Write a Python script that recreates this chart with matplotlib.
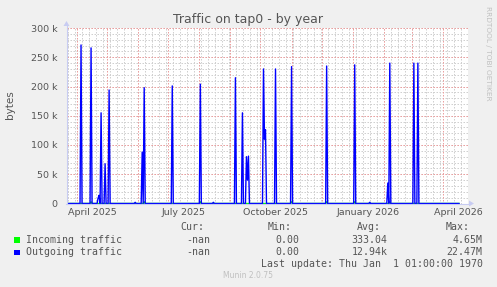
import matplotlib
matplotlib.use('Agg')
import matplotlib.pyplot as plt
import numpy as np
import pandas as pd

# graph window (munin "by year" = 400 days)
start = pd.Timestamp('2025-03-22')
end = start + pd.Timedelta(days=400)
data_end = pd.Timestamp('2026-04-17')

# outgoing traffic, daily averages (bytes), zero elsewhere
out_dates = ['2025-04-05', '2025-04-15', '2025-04-22', '2025-04-23', '2025-04-25', '2025-04-29',
             '2025-05-03', '2025-05-29', '2025-06-05', '2025-06-07', '2025-07-05', '2025-08-02',
             '2025-08-15', '2025-09-06', '2025-09-13', '2025-09-17', '2025-09-18', '2025-09-19',
             '2025-10-04', '2025-10-05', '2025-10-06', '2025-10-16', '2025-11-01', '2025-12-06',
             '2026-01-03', '2026-01-18', '2026-02-05', '2026-02-07', '2026-03-03', '2026-03-07']
out_values = [271000, 266000, 9000, 14000, 155000, 68000,
              194000, 2000, 88000, 198000, 201000, 204000,
              2000, 215000, 155000, 80000, 40000, 81000,
              230000, 110000, 126000, 230000, 234000, 235000,
              237000, 2000, 35000, 240000, 240000, 240000]

# incoming traffic, daily averages (bytes)
in_dates = ['2025-04-15', '2025-06-07', '2025-08-02', '2025-11-01', '2025-12-06', '2026-01-03', '2026-02-07']
in_values = [3000, 3000, 3000, 3000, 3000, 3000, 3000]

y_ticks = [0, 50000, 100000, 150000, 200000, 250000, 300000]
y_labels = ['0', '50 k', '100 k', '150 k', '200 k', '250 k', '300 k']
x_label_months = ['2025-04-01', '2025-07-01', '2025-10-01', '2026-01-01', '2026-04-01']

days = pd.date_range(start, data_end, freq='D')
outgoing = pd.Series(0.0, index=days)
outgoing[pd.to_datetime(out_dates)] = out_values
incoming = pd.Series(0.0, index=days)
incoming[pd.to_datetime(in_dates)] = in_values

W, H = 497, 287
fig = plt.figure(figsize=(W / 100, H / 100), dpi=100)
fig.patch.set_facecolor('#F0F0F0')

ax = fig.add_axes([67 / W, 1 - 203.5 / H, 401 / W, 175.5 / H])
ax.set_facecolor('white')
ax.set_xlim(start, end)
ax.set_ylim(0, 300000)
for s in ax.spines.values():
    s.set_visible(False)

# grid: grey minor (weekly / 10k), red major (monthly / 50k)
grid_minor = dict(color='#D0D0D0', lw=0.72, ls=(0, (1.5, 1.5)), zorder=1)
grid_major = dict(color='#EBA0A0', lw=0.72, ls=(0, (1.5, 1.5)), zorder=2)
for d in pd.date_range(start, end, freq='W-SUN'):
    ax.axvline(d, **grid_minor)
for v in range(10000, 300001, 10000):
    ax.axhline(v, **grid_minor)
for d in pd.date_range(start, end, freq='MS'):
    ax.axvline(d, **grid_major)
for v in range(50000, 300001, 50000):
    ax.axhline(v, **grid_major)

ax.plot(incoming.index, incoming.values, color='#00FF00', lw=1.0, zorder=3)
ax.plot(outgoing.index, outgoing.values, color='#0000FF', lw=1.0, zorder=4)

ax.set_yticks(y_ticks)
ax.set_yticklabels(y_labels)
label_pos = pd.to_datetime(x_label_months) + pd.Timedelta(days=15)
ax.set_xticks(label_pos)
ax.set_xticklabels([pd.Timestamp(m).strftime('%B %Y') for m in x_label_months])
ax.tick_params(axis='both', length=0, labelsize=6.8, colors='#555555')
ax.tick_params(axis='y', pad=7)
ax.tick_params(axis='x', pad=3)

# overlay in pixel coordinates for axes arrows and texts
ov = fig.add_axes([0, 0, 1, 1])
ov.set_xlim(0, W)
ov.set_ylim(H, 0)
ov.axis('off')
ov.patch.set_alpha(0)

axis_c = '#C8CCF2'
ov.plot([66.5, 66.5], [204, 26], color=axis_c, lw=0.8)
ov.plot([66, 469], [203.5, 203.5], color=axis_c, lw=0.8)
ov.fill([63.5, 69.5, 66.5], [26, 26, 21], color=axis_c, lw=0)
ov.fill([469, 469, 474], [200.5, 206.5, 203.5], color=axis_c, lw=0)

ov.text(248, 19, 'Traffic on tap0 - by year', ha='center', va='center', fontsize=9, color='#555555')
ov.text(10, 105, 'bytes', ha='center', va='center', rotation=90, fontsize=7.5, color='#555555')
ov.text(488, 53, 'RRDTOOL / TOBI OETIKER', ha='center', va='center', rotation=270,
        fontsize=5.3, color='#C0C0C0')

mono = dict(family='DejaVu Sans Mono', fontsize=7.1, color='#555555', va='center')
ov.text(204, 227.3, 'Cur:', ha='right', **mono)
ov.text(292, 227.3, 'Min:', ha='right', **mono)
ov.text(381, 227.3, 'Avg:', ha='right', **mono)
ov.text(470, 227.3, 'Max:', ha='right', **mono)

rows = [('Incoming traffic', '#00FF00', ['-nan', '0.00', '333.04', '4.65M'], 240),
        ('Outgoing traffic', '#0000FF', ['-nan', '0.00', '12.94k', '22.47M'], 252.3)]
col_right = [210.7, 299, 387.7, 482.7]
for name, c, vals, y in rows:
    ov.fill([14, 19.5, 19.5, 14], [y - 2.7, y - 2.7, y + 2.7, y + 2.7], color=c, lw=0)
    ov.text(26, y, name, ha='left', **mono)
    for xr, v in zip(col_right, vals):
        ov.text(xr, y, v, ha='right', **mono)

ov.text(482.7, 263.7, 'Last update: Thu Jan  1 01:00:00 1970', ha='right', **mono)
ov.text(248, 276, 'Munin 2.0.75', ha='center', va='center', fontsize=5.5, color='#C0C0C0')

fig.savefig('out.png', dpi=100, facecolor=fig.get_facecolor())
